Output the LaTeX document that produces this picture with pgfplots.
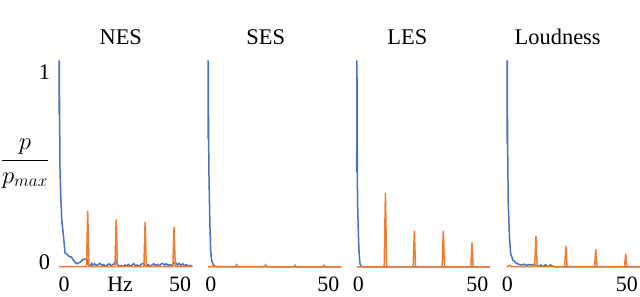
\documentclass[border=0pt]{standalone}
\usepackage{pgfplots}
\pgfplotsset{compat=1.18}
\usepackage{fontspec}
\setmainfont{Liberation Serif}
\definecolor{cblue}{RGB}{68,114,196}
\definecolor{corange}{RGB}{237,125,49}
\pgfplotsset{
  panel/.style={
    scale only axis, width=133.4bp, height=207bp,
    xmin=0, xmax=55.3, ymin=0, ymax=1,
    clip=false, axis line style={draw=none},
    major tick length=0pt, tick style={draw=none},
    ytick=\empty,
    /pgf/number format/assume math mode=true,
    xticklabel style={anchor=base, inner sep=0pt, yshift=-24bp, font=\fontsize{22}{25}\selectfont},
    title style={anchor=base, font=\fontsize{22.5}{26}\selectfont},
  },
  blueline/.style={cblue, line width=1.5bp},
  orangeline/.style={corange, line width=1.5bp},
}
\begin{document}
\begin{tikzpicture}
\useasboundingbox (0,0) rectangle (640bp,297bp);
% ---------- NES ----------
\begin{axis}[panel, at={(59bp,29.5bp)},
  title={NES}, title style={at={(axis description cs:0.463,1.048)}},
  xtick={2.1,25.3,50.2}, xticklabels={\textrm{0},\textrm{Hz},\textrm{50}},
  ytick={0.027,0.942}, yticklabels={\textrm{0},\textrm{1}},
  yticklabel style={anchor=center, xshift=-14.5bp, font=\fontsize{22.5}{26}\selectfont},
  ylabel={$\displaystyle\frac{p}{p_{max}}$},
  every axis y label/.style={at={(axis description cs:-0.255,0.503)}, anchor=center, font=\fontsize{24}{28}\selectfont},
]
\addplot[blueline] coordinates {
(0,0.74)(0.1,1.0)(0.25,0.74)(0.4,0.48)(0.8,0.32)(1.2,0.22)(1.8,0.16)(2.5,0.07)(3.3,0.065)(4,0.055)(5.2,0.05)(6,0.035)(7.3,0.018)(8,0.022)(8.7,0.025)(9.4,0.032)(10,0.04)(10.8,0.038)(11.5,0.042)(12.2,0.01)
(12.9,0.005)(13.5,0.02)(14,0.012)(14.8,0.018)(15.5,0.008)(16.3,0.015)(17,0.02)(17.8,0.01)(18.5,0.014)(19.3,0.006)(20,0.012)(20.8,0.018)(21.5,0.009)(22.3,0.014)(23,0.02)(23.6,0.035)(24.2,0.015)(25,0.006)(25.8,0.01)(26.5,0.004)(27.3,0.012)(28,0.008)(28.8,0.015)(29.5,0.007)(30.3,0.012)(31,0.018)(31.8,0.008)(32.5,0.012)(33.3,0.006)(34,0.015)(34.8,0.02)(35.5,0.01)(36.3,0.008)(37,0.014)(37.8,0.006)(38.5,0.012)(39.3,0.018)(40,0.01)(40.8,0.015)(41.5,0.008)(42.3,0.016)(43,0.02)(43.8,0.012)(44.5,0.018)(45.3,0.01)(46,0.014)(46.8,0.008)(47.5,0.02)(48.3,0.025)(49,0.012)(49.8,0.02)(50.5,0.01)(51.3,0.018)(52,0.008)(52.8,0.014)(53.5,0.006)(54.3,0.01)(55,0.006)(55.3,0.008)
};
\addplot[orangeline] coordinates {
(0,0.004)(11.4,0.004)(11.9,0.273)(12.4,0.004)(23.2,0.004)(23.7,0.232)(24.2,0.004)(35.2,0.004)(35.7,0.22)(36.2,0.004)(47.2,0.004)(47.7,0.196)(48.2,0.004)(55.3,0.004)
};
\end{axis}
% ---------- SES ----------
\begin{axis}[panel, at={(208bp,29.5bp)},
  title={SES}, title style={at={(axis description cs:0.433,1.048)}},
  xtick={1.2,49.9}, xticklabels={\textrm{0},\textrm{50}},
]
\addplot[blueline] coordinates {
(0,0.62)(0.1,1.0)(0.25,0.62)(0.4,0.45)(0.6,0.32)(0.85,0.18)(1.1,0.08)(1.5,0.035)(2.2,0.012)(3,0.006)(4,0.004)(8,0.004)(55.3,0.003)
};
\addplot[orangeline] coordinates {
(0,0.003)(11.4,0.003)(11.9,0.013)(12.4,0.003)(23.4,0.003)(23.9,0.013)(24.4,0.003)(35.6,0.003)(36.1,0.011)(36.6,0.003)(47.6,0.003)(48.1,0.011)(48.6,0.003)(55.3,0.003)
};
\end{axis}
% ---------- LES ----------
\begin{axis}[panel, at={(356.7bp,29.5bp)},
  title={LES}, title style={at={(axis description cs:0.38,1.048)}},
  xtick={0.66,50.0}, xticklabels={\textrm{0},\textrm{50}},
]
\addplot[blueline] coordinates {
(0,0.46)(0.1,1.0)(0.25,0.46)(0.4,0.3)(0.7,0.16)(1.0,0.07)(1.4,0.015)(2,0.005)(3,0.003)(55.3,0.003)
};
\addplot[orangeline] coordinates {
(0,0.003)(11.4,0.003)(11.9,0.362)(12.4,0.003)(23.4,0.003)(23.9,0.177)(24.4,0.003)(35.4,0.003)(35.9,0.177)(36.4,0.003)(47.3,0.003)(47.8,0.12)(48.3,0.003)(55.3,0.003)
};
\end{axis}
% ---------- Loudness ----------
\begin{axis}[panel, at={(507bp,29.5bp)},
  title={Loudness}, title style={at={(axis description cs:0.38,1.048)}},
  xtick={0.1,49.7}, xticklabels={\textrm{0},\textrm{50}},
]
\addplot[blueline] coordinates {
(0,0.6)(0.1,1.0)(0.25,0.6)(0.5,0.32)(1.0,0.15)(1.5,0.07)(2.5,0.035)(4,0.02)(5,0.015)(6,0.012)(7,0.016)(8,0.01)(9,0.014)(10,0.012)(11,0.015)(12,0.008)(13,0.006)(14,0.012)(15,0.005)(16,0.013)(17,0.004)(18,0.012)(19,0.006)(20,0.003)(55.3,0.003)
};
\addplot[orangeline] coordinates {
(0,0.003)(0.6,0.008)(1.2,0.01)(1.8,0.004)(11.5,0.004)(12.0,0.153)(12.5,0.004)(23.9,0.004)(24.4,0.104)(24.9,0.004)(36.3,0.004)(36.8,0.088)(37.3,0.004)(48.7,0.004)(49.2,0.065)(49.7,0.004)(55.3,0.004)
};
\end{axis}
\end{tikzpicture}
\end{document}
